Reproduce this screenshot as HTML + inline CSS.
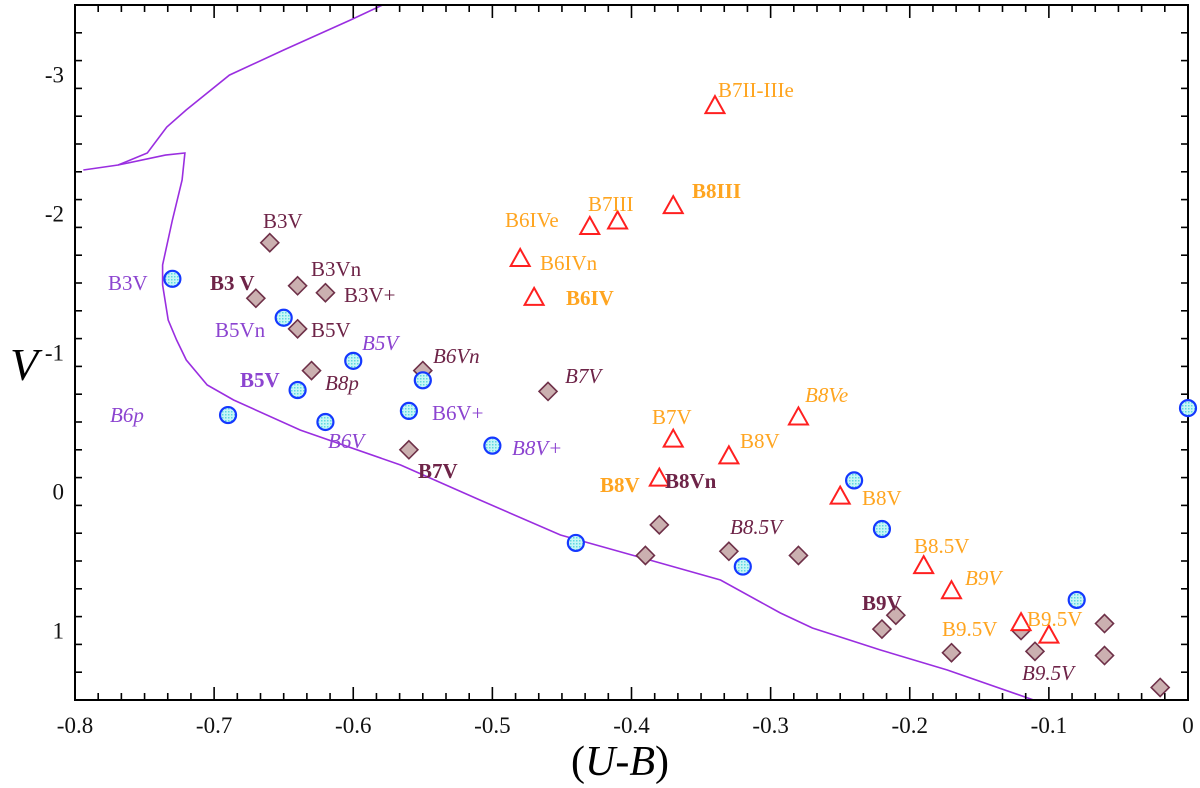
<!DOCTYPE html>
<html><head><meta charset="utf-8"><style>
html,body{margin:0;padding:0;background:#fff;width:1200px;height:788px;overflow:hidden}
svg text{font-family:"Liberation Serif",serif}
</style></head><body>
<svg id="chart" width="1200" height="788" xmlns="http://www.w3.org/2000/svg"></svg>
<script>
// ---- data ----
const xTicks = [-0.8,-0.7,-0.6,-0.5,-0.4,-0.3,-0.2,-0.1,0];
const xTickLabels = ["-0.8","-0.7","-0.6","-0.5","-0.4","-0.3","-0.2","-0.1","0"];
const yTicks = [-3,-2,-1,0,1];
const yTickLabels = ["-3","-2","-1","0","1"];
const circleUB = [-0.73,-0.65,-0.60,-0.55,-0.64,-0.69,-0.62,-0.56,-0.50,-0.44,-0.32,-0.24,-0.22,-0.08,0.0];
const circleV  = [-1.53,-1.25,-0.94,-0.80,-0.73,-0.55,-0.50,-0.58,-0.33,0.37,0.54,-0.08,0.27,0.78,-0.60];
const diamondUB = [-0.66,-0.67,-0.64,-0.62,-0.64,-0.63,-0.55,-0.46,-0.56,-0.38,-0.39,-0.33,-0.28,-0.21,-0.22,-0.17,-0.12,-0.11,-0.06,-0.06,-0.02];
const diamondV  = [-1.79,-1.39,-1.48,-1.43,-1.17,-0.87,-0.87,-0.72,-0.30,0.24,0.46,0.43,0.46,0.89,0.99,1.16,1.00,1.15,0.95,1.18,1.41];
const triUB = [-0.34,-0.37,-0.41,-0.43,-0.48,-0.47,-0.37,-0.33,-0.28,-0.38,-0.25,-0.19,-0.17,-0.12,-0.10];
const triV  = [-2.78,-2.06,-1.95,-1.91,-1.68,-1.40,-0.38,-0.26,-0.54,-0.10,0.03,0.53,0.71,0.94,1.03];
const isoUB = [-0.794,-0.784,-0.769,-0.748,-0.734,-0.720,-0.689,-0.650,-0.602,-0.579];
const isoV  = [-2.313,-2.327,-2.349,-2.435,-2.622,-2.745,-2.996,-3.176,-3.392,-3.5];
const iso2UB = [-0.769,-0.735,-0.721,-0.723,-0.730,-0.737,-0.737,-0.733,-0.727,-0.720,-0.705,-0.686,-0.638,-0.566,-0.509,-0.451,-0.387,-0.336,-0.293,-0.270,-0.221,-0.173,-0.111];
const iso2V  = [-2.349,-2.42,-2.435,-2.241,-1.953,-1.63,-1.486,-1.234,-1.09,-0.946,-0.766,-0.658,-0.442,-0.191,0.061,0.313,0.493,0.637,0.874,0.982,1.14,1.284,1.5];
const PURPLE="#8c44d0", MAROON="#6e2448", ORANGE="#ffa520";
const labels = [
 ["B3V",108,290,PURPLE,"n","n"],["B3 V",210,290,MAROON,"b","n"],["B3V",263,228,MAROON,"n","n"],
 ["B3Vn",311,276,MAROON,"n","n"],["B3V+",344,302,MAROON,"n","n"],["B5Vn",215,337,PURPLE,"n","n"],
 ["B5V",311,337,MAROON,"n","n"],["B5V",362,350,PURPLE,"n","i"],["B6Vn",433,363,MAROON,"n","i"],
 ["B5V",240,387,PURPLE,"b","n"],["B8p",325,390,MAROON,"n","i"],["B6p",110,422,PURPLE,"n","i"],
 ["B6V",328,448,PURPLE,"n","i"],["B6V+",432,420,PURPLE,"n","n"],["B7V",565,383,MAROON,"n","i"],
 ["B8V+",512,455,PURPLE,"n","i"],["B7V",418,478,MAROON,"b","n"],["B7II-IIIe",718,97,ORANGE,"n","n"],
 ["B7III",588,211,ORANGE,"n","n"],["B8III",692,198,ORANGE,"b","n"],["B6IVe",505,227,ORANGE,"n","n"],
 ["B6IVn",540,270,ORANGE,"n","n"],["B6IV",566,305,ORANGE,"b","n"],["B8Ve",805,402,ORANGE,"n","i"],
 ["B7V",652,424,ORANGE,"n","n"],["B8V",740,448,ORANGE,"n","n"],["B8V",600,492,ORANGE,"b","n"],
 ["B8Vn",665,488,MAROON,"b","n"],["B8V",862,505,ORANGE,"n","n"],["B8.5V",730,534,MAROON,"n","i"],
 ["B8.5V",914,553,ORANGE,"n","n"],["B9V",965,585,ORANGE,"n","i"],["B9V",862,610,MAROON,"b","n"],
 ["B9.5V",942,636,ORANGE,"n","n"],["B9.5V",1027,626,ORANGE,"n","n"],["B9.5V",1022,680,MAROON,"n","i"]
];
// ---- axes ----
const L=75,R=1188,T=5,B=700;
const xMin=-0.8,xMax=0,yMin=-3.5,yMax=1.5;
const sx=u=>L+(u-xMin)/(xMax-xMin)*(R-L);
const sy=v=>T+(v-yMin)/(yMax-yMin)*(B-T);
const svg=document.getElementById('chart');
const NS="http://www.w3.org/2000/svg";
function mk(tag,attrs,parent){const e=document.createElementNS(NS,tag);for(const k in attrs)e.setAttribute(k,attrs[k]);(parent||svg).appendChild(e);return e;}

const defs=mk('defs',{});
const pat=mk('pattern',{id:'dots',width:3,height:3,patternUnits:'userSpaceOnUse'},defs);
mk('rect',{width:3,height:3,fill:'#c8f6f6'},pat);
mk('rect',{width:1.5,height:1.5,fill:'#5fd8e0'},pat);

// isochrone
const g0=mk('g',{});


[[isoUB,isoV],[iso2UB,iso2V]].forEach(([us,vs])=>{
  const d=us.map((u,i)=>(i?'L':'M')+sx(u).toFixed(1)+','+sy(vs[i]).toFixed(1)).join('');
  const p=mk('path',{d:d,fill:'none',stroke:'#9a2ee0','stroke-width':1.6},g0);
  
  
});

// frame
const fr=mk('rect',{x:L,y:T,width:R-L,height:B-T,fill:'none',stroke:'#000','stroke-width':2});


const tg=mk('g',{stroke:'#000','stroke-width':1.6});


for(let k=0;k<=48;k++){const u=xMin+k*(xMax-xMin)/48;const x=sx(u);const len=(k%6===0)?13:7;
  mk('line',{x1:x,y1:B,x2:x,y2:B-len},tg);mk('line',{x1:x,y1:T,x2:x,y2:T+len},tg);}
for(let k=0;k<=25;k++){const v=yMin+k*0.2;const y=sy(v);const len=(Math.abs(v-Math.round(v))<1e-6)?13:7;
  mk('line',{x1:L,y1:y,x2:L+len,y2:y},tg);mk('line',{x1:R,y1:y,x2:R-len,y2:y},tg);}
xTicks.forEach((u,i)=>{const t=mk('text',{x:sx(u),y:733,'text-anchor':'middle','font-size':23,fill:'#111'});t.textContent=xTickLabels[i];
  });
yTicks.forEach((v,i)=>{const t=mk('text',{x:L-11,y:sy(v)+8,'text-anchor':'end','font-size':23,fill:'#111'});t.textContent=yTickLabels[i];
  });
const yt=mk('text',{x:10,y:380,'font-size':46,'font-style':'italic',fill:'#000'});yt.textContent='V';

const xt=mk('text',{x:620,y:775,'text-anchor':'middle','font-size':42,fill:'#000'});
xt.innerHTML='(<tspan font-style="italic">U</tspan>-<tspan font-style="italic">B</tspan>)';


// markers
diamondUB.forEach((u,i)=>{const x=sx(u),y=sy(diamondV[i]);
  const p=mk('path',{d:`M${x},${y-9}L${x+9},${y}L${x},${y+9}L${x-9},${y}Z`,fill:'#cbb0b0',stroke:'#6e3048','stroke-width':1.6});
  });
triUB.forEach((u,i)=>{const x=sx(u),y=sy(triV[i]);
  const p=mk('path',{d:`M${x},${y-9}L${x+9.5},${y+8}L${x-9.5},${y+8}Z`,fill:'#fff',stroke:'#ff2020','stroke-width':2});
  });
circleUB.forEach((u,i)=>{const c=mk('circle',{cx:sx(u),cy:sy(circleV[i]),r:8,fill:'url(#dots)',stroke:'#1438ff','stroke-width':2.2});
  });

// labels
labels.forEach(l=>{const t=mk('text',{x:l[1],y:l[2],'font-size':21,fill:l[3],'font-weight':l[4]==='b'?'bold':'normal','font-style':l[5]==='i'?'italic':'normal'});
  t.textContent=l[0];});
</script>
</body></html>
